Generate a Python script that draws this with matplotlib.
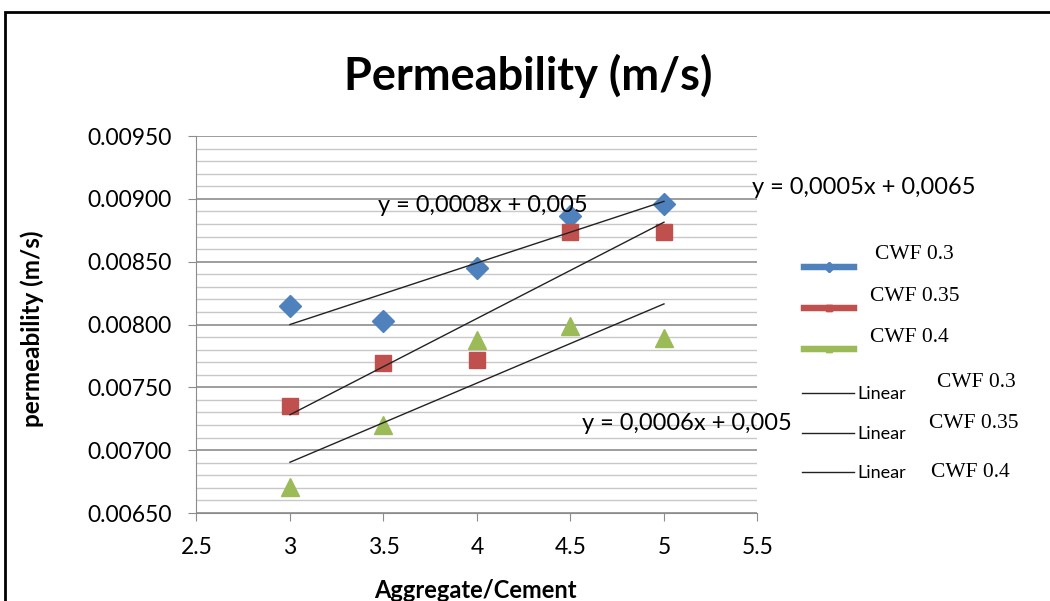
import matplotlib
matplotlib.use('Agg')
import matplotlib.pyplot as plt
import numpy as np
from matplotlib.lines import Line2D
from matplotlib.patches import Rectangle
from matplotlib.ticker import MultipleLocator

# values
ratio = [3, 3.5, 4, 4.5, 5]
cwf_03 = [0.00815, 0.00803, 0.00845, 0.00886, 0.00896]
cwf_035 = [0.00735, 0.00769, 0.00772, 0.00874, 0.00874]
cwf_04 = [0.00671, 0.00720, 0.00788, 0.00799, 0.00789]
series_names = ['CWF 0.3', 'CWF 0.35', 'CWF 0.4']
equations = ['y = 0,0005x + 0,0065', 'y = 0,0008x + 0,005', 'y = 0,0006x + 0,005']

COLORS = ['#4F81BD', '#C0504D', '#9BBB59']
MARKERS = ['D', 's', '^']
SIZES = [11, 12, 13]

plt.rcParams['font.family'] = ['Lato', 'DejaVu Sans']

fig = plt.figure(figsize=(10.5, 6.01), dpi=100)
ax = fig.add_axes([0.1871, 0.1464, 0.5343, 0.6273])

all_series = [cwf_03, cwf_035, cwf_04]
for vals, c, m, s in zip(all_series, COLORS, MARKERS, SIZES):
    ax.plot(ratio, vals, linestyle='none', marker=m, color=c, markersize=s, zorder=3)
    # linear trendline (least squares, like Excel)
    k, b = np.polyfit(ratio, vals, 1)
    xs = np.array([ratio[0], ratio[-1]])
    ax.plot(xs, k * xs + b, color='#222222', linewidth=1, zorder=4)

ax.set_xlim(2.5, 5.5)
ax.set_ylim(0.0065, 0.0095)
ax.xaxis.set_major_locator(MultipleLocator(0.5))
ax.yaxis.set_major_locator(MultipleLocator(0.0005))
ax.yaxis.set_minor_locator(MultipleLocator(0.0001))
ax.yaxis.set_major_formatter('{x:.5f}')
ax.xaxis.set_major_formatter(lambda v, p: f'{v:g}')

ax.grid(axis='y', which='major', color='#8C8C8C', linewidth=1.2)
ax.grid(axis='y', which='minor', color='#C8C8C8', linewidth=1.0)
ax.set_axisbelow(True)
for side in ['top', 'right']:
    ax.spines[side].set_visible(False)
for side in ['left', 'bottom']:
    ax.spines[side].set_color('#8C8C8C')
ax.tick_params(which='major', length=6, color='#8C8C8C', labelsize=16.5)
ax.tick_params(axis='y', which='minor', length=0)
ax.tick_params(axis='y', pad=12)
ax.tick_params(axis='x', pad=11)

ax.set_xlabel('Aggregate/Cement', fontsize=17, fontweight='bold')
ax.set_ylabel('permeability (m/s)', fontsize=17.5, fontweight='bold')
ax.xaxis.set_label_coords(0.498, -0.175)
ax.yaxis.set_label_coords(-0.272, 0.49)
fig.text(0.503, 0.873, 'Permeability (m/s)', fontsize=32.5, fontweight='bold',
         ha='center', va='center')

# trendline equations, placed as in the original
ax.text(5.47, 0.00909, equations[0], fontsize=17, va='center', ha='left', clip_on=False)
ax.text(3.47, 0.00895, equations[1], fontsize=17, va='center', ha='left')
ax.text(4.56, 0.00721, equations[2], fontsize=17, va='center', ha='left')

# legend: marker entries
handles = [Line2D([], [], color=c, marker=m, markersize=5, linewidth=4.5)
           for c, m in zip(COLORS, MARKERS)]
leg1 = fig.legend(handles, [''] * 3, loc='upper left', bbox_to_anchor=(0.759, 0.576),
                  frameon=False, handlelength=3.6, labelspacing=2.1, borderpad=0)
fig.add_artist(leg1)
serif = ['Liberation Serif', 'DejaVu Serif']
for name, xx, yy in zip(series_names, [0.833, 0.829, 0.829], [0.576, 0.506, 0.439]):
    fig.text(xx, yy, name, fontsize=15.5, family=serif, va='center')

lin_handles = [Line2D([], [], color='#222222', linewidth=1) for _ in range(3)]
fig.legend(lin_handles, ['Linear'] * 3, loc='upper left', bbox_to_anchor=(0.755, 0.372),
           frameon=False, handlelength=2.9, labelspacing=1.3, borderpad=0,
           handletextpad=0.2, fontsize=13)
for name, xx, yy in zip(series_names, [0.892, 0.885, 0.887], [0.363, 0.296, 0.213]):
    fig.text(xx, yy, name, fontsize=15.5, family=serif, va='center')

# outer frame of the pasted chart
fig.add_artist(Rectangle((0.005, -0.05), 1.2, 1.03, transform=fig.transFigure,
                         fill=False, edgecolor='black', linewidth=2))

fig.savefig('out.png', dpi=100)
